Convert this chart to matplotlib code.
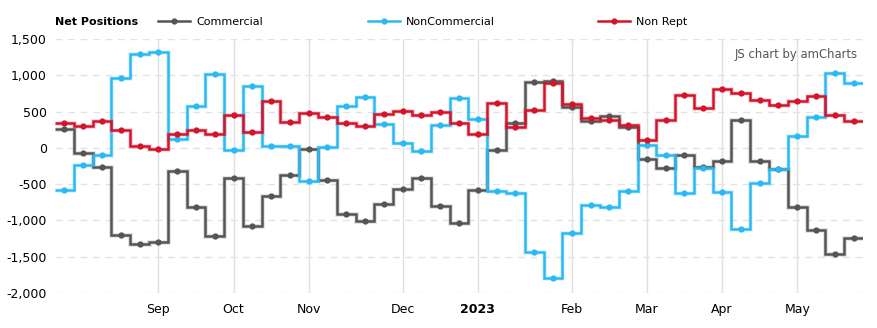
import matplotlib.pyplot as plt
import numpy as np
from matplotlib.lines import Line2D

# weekly COT net positions, Aug 2 2022 .. May 23 2023 (one point per week)
commercial = [253, -69, -263, -1203, -1327, -1295, -323, -816, -1217, -415,
              -1078, -664, -373, -9, -447, -912, -1009, -770, -567, -415,
              -802, -1037, -585, -28, 346, 912, 926, 567, 373, 438,
              281, -152, -276, -97, -263, -180, 378, -180, -290, -816,
              -1134, -1465, -1244]
noncommercial = [-585, -235, -97, 968, 1299, 1327, 124, 581, 1023, -23,
                 857, 28, 28, -456, 14, 581, 705, 332, 69, -41,
                 318, 687, 392, -599, -622, -1438, -1797, -1175, -788, -816,
                 -594, 41, -97, -622, -272, -608, -1120, -488, -290, 166,
                 424, 1028, 899]
nonrept = [346, 300, 364, 240, 28, -14, 194, 240, 194, 456,
           221, 650, 359, 475, 429, 346, 300, 461, 511, 456,
           488, 341, 194, 622, 290, 525, 889, 608, 415, 378,
           318, 115, 387, 733, 553, 806, 751, 664, 594, 650,
           719, 456, 364]
month_idx = [5, 9, 13, 18, 22, 27, 31, 35, 39]
month_lbl = ['Sep', 'Oct', 'Nov', 'Dec', '2023', 'Feb', 'Mar', 'Apr', 'May']
yticks = [-2000, -1500, -1000, -500, 0, 500, 1000, 1500]

names = ['Commercial', 'NonCommercial', 'Non Rept']
colors = ['#555555', '#2bb9f3', '#d3142b']
series = [commercial, noncommercial, nonrept]

fig = plt.figure(figsize=(8.78, 3.28), dpi=100)
ax = fig.add_axes([55/878, 1-293/328, (863-55)/878, (293-39)/328])

n = len(commercial)
x = np.arange(n)
edges = np.arange(n + 1) - 0.5
for vals, c in zip(series, colors):
    ax.stairs(vals, edges, baseline=None, color=c, lw=3.6, alpha=0.15, zorder=2)
    ax.stairs(vals, edges, baseline=None, color=c, lw=1.8, zorder=3)
    ax.plot(x, vals, 'o', color=c, ms=3.5, zorder=4)

ax.set_xlim(-0.5, n - 0.5)
ax.set_ylim(-2000, 1500)
for v in yticks:
    ax.axhline(v, color='#e3e3e3', lw=1, ls=(0, (5, 4)), zorder=0)
for i in month_idx:
    ax.axvline(i, color='#e0e0e0', lw=1, zorder=0)

ax.set_yticks(yticks)
ax.set_yticklabels([f'{v:,}' for v in yticks])
ax.set_xticks(month_idx)
ax.set_xticklabels(month_lbl)
ax.get_xticklabels()[4].set_fontweight('bold')
ax.tick_params(length=0, labelsize=9, colors='#000000')
ax.tick_params(axis='x', pad=7)
ax.tick_params(axis='y', pad=6)
for s in ax.spines.values():
    s.set_visible(False)

ax.text(0.993, 0.94, 'JS chart by amCharts', transform=ax.transAxes,
        ha='right', va='center', fontsize=8.4, color='#555555')

# legend row
fig.text(55/878, 1-22/328, 'Net Positions', fontsize=8, fontweight='bold',
         ha='left', va='center')
leg_x = [158, 368, 598]
for lx, name, c in zip(leg_x, names, colors):
    yy = 1-21/328
    fig.add_artist(Line2D([lx/878, (lx+32)/878], [yy, yy], color=c, lw=1.8,
                          transform=fig.transFigure))
    fig.add_artist(Line2D([(lx+16)/878], [yy], color=c, marker='o', ms=3.5,
                          transform=fig.transFigure))
    fig.text((lx+38)/878, 1-22/328, name, fontsize=8, ha='left', va='center')

fig.savefig('out.png', dpi=100)
